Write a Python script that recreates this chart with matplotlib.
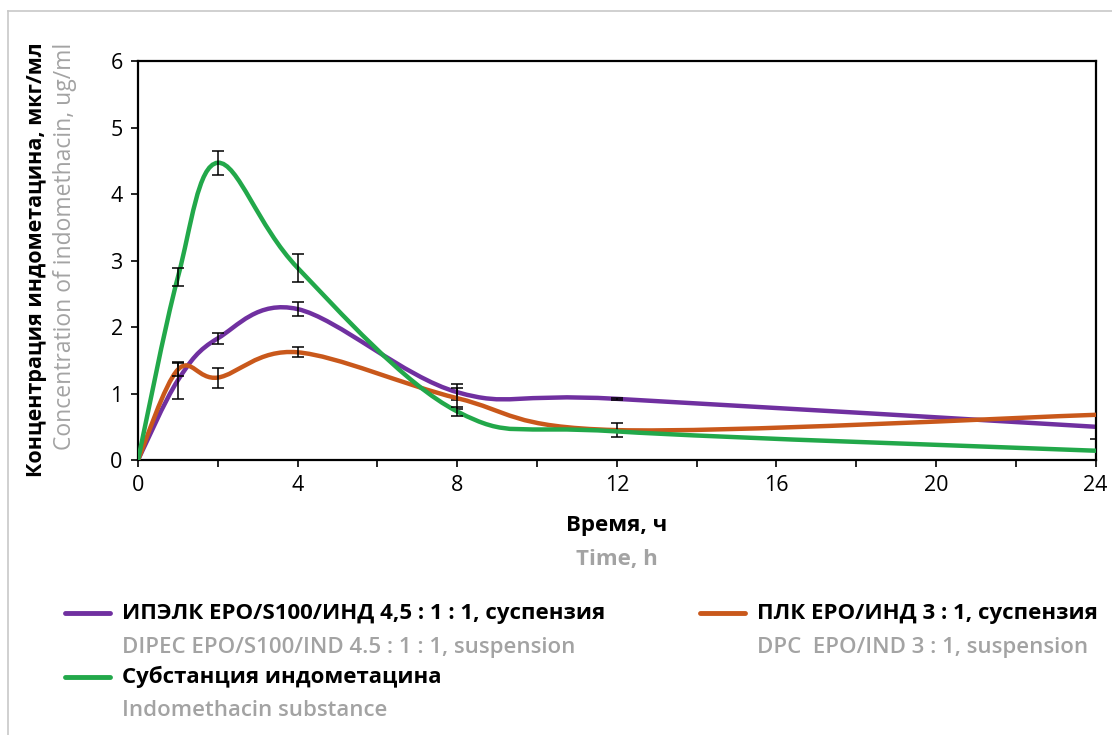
import numpy as np
import matplotlib
matplotlib.use("Agg")
import matplotlib.pyplot as plt
from matplotlib.path import Path
from matplotlib.patches import PathPatch
from matplotlib.lines import Line2D
from matplotlib.ticker import MultipleLocator, FuncFormatter

# время отбора проб, ч
time_h = [0, 1, 2, 4, 8, 12, 24]

# ИПЭЛК EPO/S100/ИНД 4,5:1:1
dipec = [0, 1.20, 1.83, 2.27, 1.02, 0.92, 0.50]
dipec_err = [0, 0.28, 0.085, 0.10, 0.12, 0.02, 0.18]

# ПЛК EPO/ИНД 3:1
dpc = [0, 1.36, 1.24, 1.62, 0.93, 0.45, 0.68]
dpc_err = [0, 0.10, 0.15, 0.075, 0.16, 0.10, 0]

# субстанция индометацина
ind = [0, 2.75, 4.47, 2.89, 0.73, 0.43, 0.14]
ind_err = [0, 0.14, 0.18, 0.21, 0.07, 0, 0]

names_ru = ["ИПЭЛК ЕРО/S100/ИНД 4,5 : 1 : 1, суспензия",
            "ПЛК ЕРО/ИНД 3 : 1, суспензия",
            "Субстанция индометацина"]
names_en = ["DIPEC EPO/S100/IND 4.5 : 1 : 1, suspension",
            "DPC  EPO/IND 3 : 1, suspension",
            "Indomethacin substance"]
colors = ["#7030A0", "#C9581B", "#22A84A"]

GRAY = "#A3A3A3"
plt.rcParams['font.family'] = ['Open Sans', 'DejaVu Sans']


def smooth_path(x, y):
    # сглаживание как в Excel (кривые Безье, натяжение 1/6)
    pts = np.column_stack([x, y]).astype(float)
    n = len(pts)
    verts = [pts[0]]
    codes = [Path.MOVETO]
    for i in range(n - 1):
        p0 = pts[max(i - 1, 0)]
        p1 = pts[i]
        p2 = pts[i + 1]
        p3 = pts[min(i + 2, n - 1)]
        verts += [p1 + (p2 - p0) / 6, p2 - (p3 - p1) / 6, p2]
        codes += [Path.CURVE4] * 3
    return Path(verts, codes)


fig = plt.figure(figsize=(11.12, 7.35), dpi=100)
ax = fig.add_axes([0.1241, 0.3741, 0.8612, 0.5429])

series = [(dipec, dipec_err), (dpc, dpc_err), (ind, ind_err)]
z = 2
for (vals, errs), c in zip(series, colors):
    ax.add_patch(PathPatch(smooth_path(time_h, vals), fill=False,
                           edgecolor=c, lw=3.2, capstyle='round', zorder=z))
    t = np.array(time_h)
    v = np.array(vals)
    e = np.array(errs)
    m = e > 0
    ax.errorbar(t[m], v[m], yerr=e[m], fmt='none', ecolor='black',
                elinewidth=1.1, capsize=4.5, capthick=1.1, zorder=z + 1)
    z += 2

ax.set_xlim(0, 24)
ax.set_ylim(0, 6)
ax.xaxis.set_major_locator(MultipleLocator(2))
ax.xaxis.set_major_formatter(FuncFormatter(lambda v, p: f"{v:.0f}" if v % 4 == 0 else ""))
ax.yaxis.set_major_locator(MultipleLocator(1))
ax.tick_params(direction='out', length=5, width=1.2, labelsize=15.5, pad=6)
for s in ax.spines.values():
    s.set_linewidth(1.6)

# подписи осей
fig.text(0.5544, 1 - 525 / 735, "Время, ч", ha='center', va='center',
         fontsize=16, fontweight='bold')
fig.text(0.5544, 1 - 560 / 735, "Time, h", ha='center', va='center',
         fontsize=16, fontweight='bold', color=GRAY)
fig.text(37 / 1112, 1 - 260 / 735, "Концентрация индометацина, мкг/мл",
         rotation=90, ha='center', va='center', fontsize=15.5, fontweight='bold')
fig.text(65 / 1112, 1 - 246 / 735, "Concentration of indomethacin, ug/ml",
         rotation=90, ha='center', va='center', fontsize=16.5, color=GRAY)

# легенда
leg = [(65, 122, 613, 647), (700, 757, 613, 647), (65, 122, 677, 710)]
for (hx, tx, y1, y2), c, ru, en in zip(leg, colors, names_ru, names_en):
    fig.add_artist(Line2D([hx / 1112, (hx + 45) / 1112], [1 - y1 / 735] * 2,
                          color=c, lw=3.5, solid_capstyle='round'))
    fig.text(tx / 1112, 1 - y1 / 735, ru, ha='left', va='center',
             fontsize=16, fontweight='bold')
    fig.text(tx / 1112, 1 - y2 / 735, en, ha='left', va='center',
             fontsize=16, fontweight='semibold', color=GRAY)

# серая рамка
fig.add_artist(Line2D([8 / 1112, 8 / 1112], [0, 1 - 11 / 735], color="#C8C8C8", lw=1.2))
fig.add_artist(Line2D([8 / 1112, 1], [1 - 11 / 735, 1 - 11 / 735], color="#C8C8C8", lw=1.2))

fig.savefig("out.png", dpi=100)
